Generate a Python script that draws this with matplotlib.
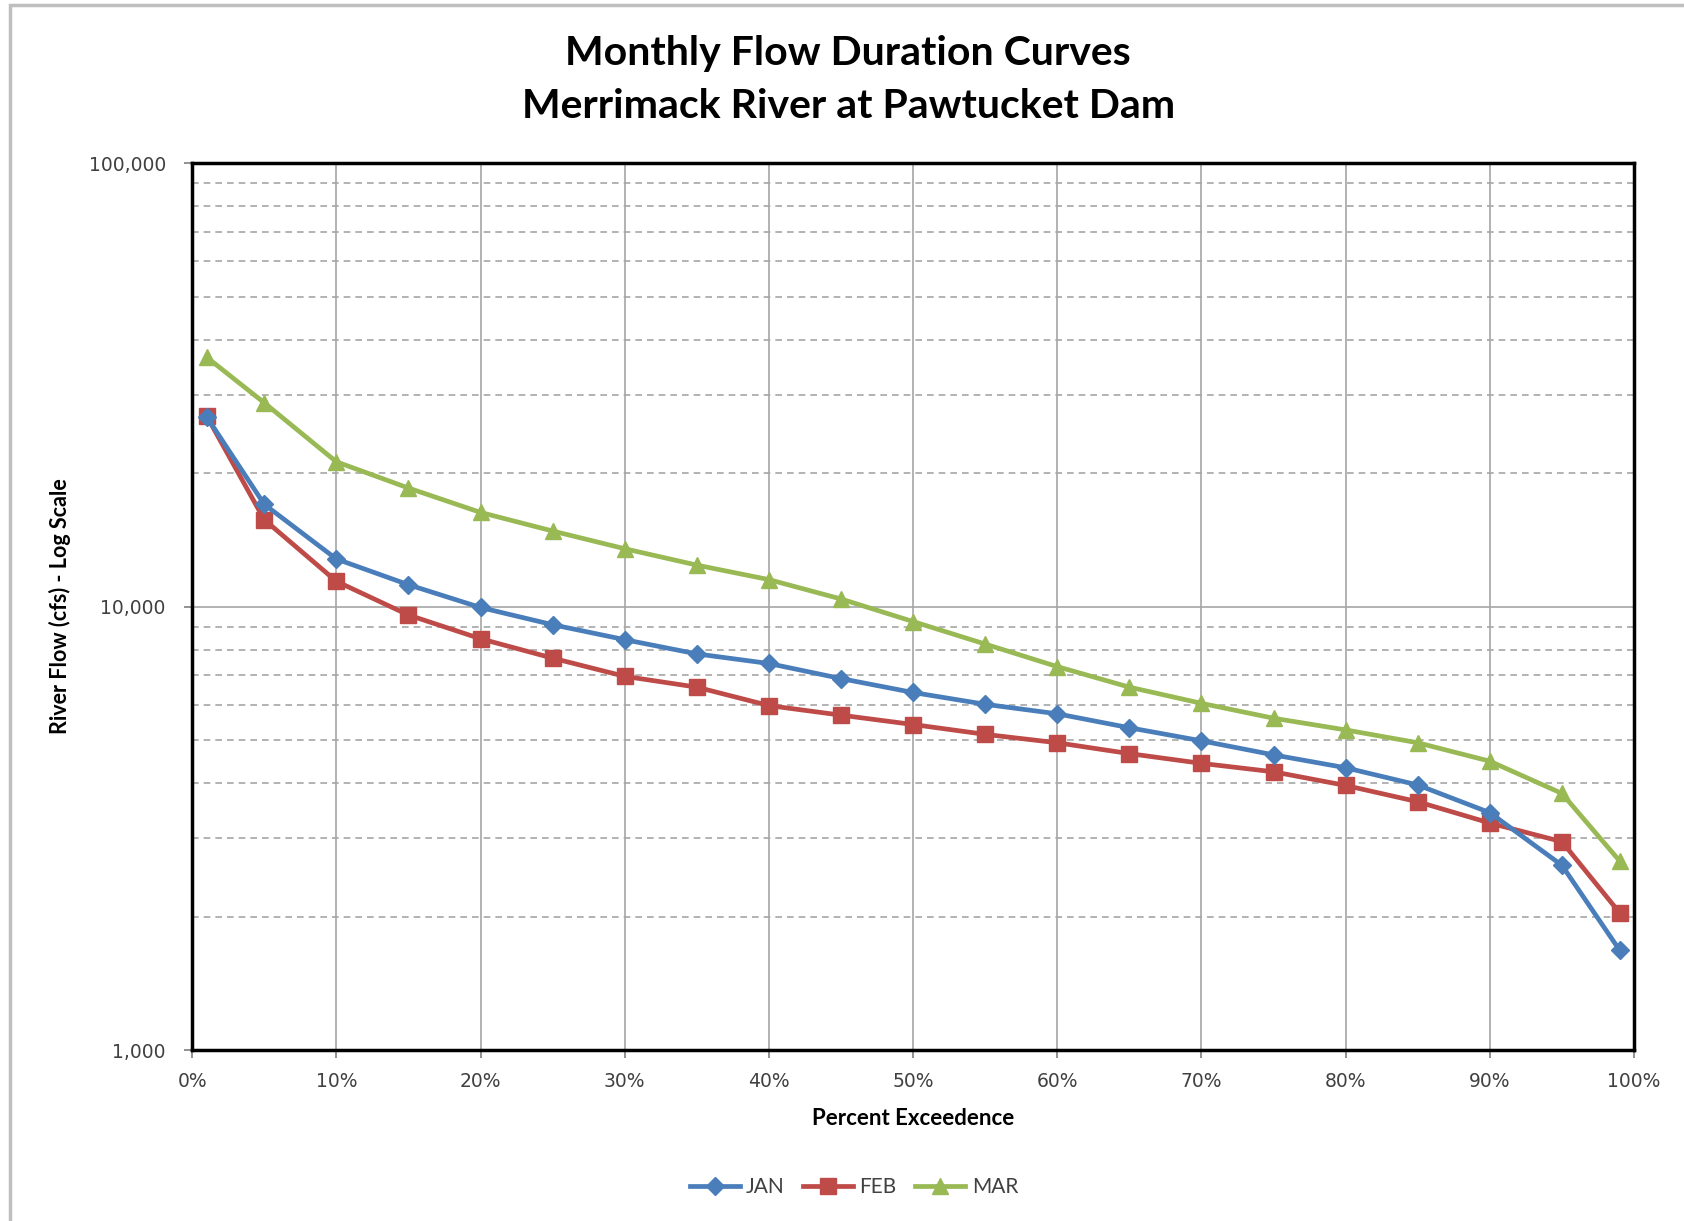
import numpy as np
import matplotlib.pyplot as plt
from matplotlib.ticker import FixedLocator, FuncFormatter, NullFormatter
from matplotlib.patches import Rectangle

# percent exceedence (%)
pct = [1, 5, 10, 15, 20, 25, 30, 35, 40, 45, 50, 55, 60, 65, 70, 75, 80, 85, 90, 95, 99]

# river flow (cfs)
jan = [26800, 17000, 12800, 11200, 9950, 9100, 8420, 7820, 7440, 6880, 6400,
       6020, 5730, 5330, 4980, 4630, 4330, 3960, 3430, 2610, 1680]
feb = [26900, 15700, 11400, 9570, 8460, 7650, 6960, 6580, 5980, 5690, 5420,
       5150, 4930, 4660, 4430, 4240, 3950, 3630, 3250, 2950, 2040]
mar = [36500, 28800, 21200, 18500, 16300, 14800, 13500, 12400, 11500, 10400, 9250,
       8230, 7320, 6580, 6050, 5600, 5270, 4930, 4480, 3790, 2670]

x_ticks = list(range(0, 101, 10))
y_ticks = [1000, 10000, 100000]

fig = plt.figure(figsize=(16.84, 12.21), dpi=100)
ax = fig.add_axes([0.1141, 0.140, 0.9703 - 0.1141, 0.8665 - 0.140])

# outer chart border
fig.patches.append(Rectangle((10 / 1684, -0.01), 1.02, 1 - 5 / 1221 + 0.01,
                             transform=fig.transFigure, fill=False,
                             edgecolor='#bfbfbf', linewidth=2.5, zorder=0))

ax.plot(pct, jan, color='#4A7EBB', linewidth=3.4, marker='D', markersize=9,
        label='JAN', zorder=4)
ax.plot(pct, feb, color='#BE4B48', linewidth=3.4, marker='s', markersize=12,
        label='FEB', zorder=3)
ax.plot(pct, mar, color='#98B954', linewidth=3.4, marker='^', markersize=11,
        label='MAR', zorder=2)

ax.set_yscale('log')
ax.set_xlim(0, 100)
ax.set_ylim(1000, 100000)

ax.xaxis.set_major_locator(FixedLocator(x_ticks))
ax.xaxis.set_major_formatter(FuncFormatter(lambda v, p: '%d%%' % v))
ax.yaxis.set_major_locator(FixedLocator(y_ticks))
ax.yaxis.set_major_formatter(FuncFormatter(lambda v, p: '{:,.0f}'.format(v)))
minor = [m * d for d in (1000, 10000) for m in range(2, 10)]
ax.yaxis.set_minor_locator(FixedLocator(minor))
ax.yaxis.set_minor_formatter(NullFormatter())

ax.grid(which='major', axis='both', color='#a6a6a6', linewidth=1.2, linestyle='-')
ax.grid(which='minor', axis='y', color='#a6a6a6', linewidth=1.2, linestyle=(0, (4, 3)))
ax.set_axisbelow(True)

ax.tick_params(axis='both', which='major', labelsize=13.5, labelcolor='#404040',
               length=6, width=1.2, color='#7f7f7f')
ax.tick_params(axis='y', which='major', pad=13)
ax.tick_params(axis='x', which='major', pad=10)
ax.tick_params(axis='y', which='minor', length=0)

for s in ax.spines.values():
    s.set_linewidth(2.5)
    s.set_color('black')

ax.set_xlabel('Percent Exceedence', fontsize=16, fontweight='bold',
              family='Lato', labelpad=12)
ax.set_ylabel('River Flow (cfs) - Log Scale', fontsize=15.5, fontweight='bold',
              family='Lato')
ax.yaxis.set_label_coords(-0.084, 0.5)

fig.text(0.5037, 1 - 54 / 1221, 'Monthly Flow Duration Curves', ha='center', va='center',
         fontsize=29.5, fontweight='bold', family='Lato')
fig.text(0.5037, 1 - 106 / 1221, 'Merrimack River at Pawtucket Dam', ha='center', va='center',
         fontsize=29.5, fontweight='bold', family='Lato')

leg = fig.legend(loc='center', bbox_to_anchor=(0.507, 1 - 1187 / 1221), ncol=3,
                 frameon=False, handlelength=2.4, columnspacing=0.9,
                 handletextpad=0.3, prop={'family': 'Lato', 'size': 15})
for t in leg.get_texts():
    t.set_color('#404040')

fig.savefig('out.png', dpi=100)
